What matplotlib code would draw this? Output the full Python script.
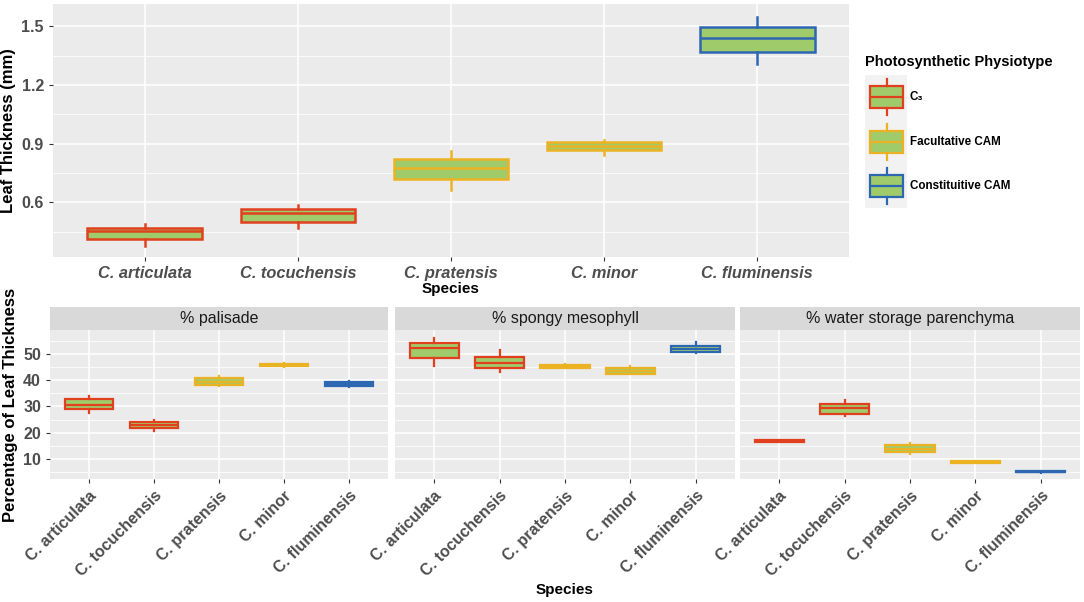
import matplotlib
matplotlib.use("Agg")
import matplotlib.pyplot as plt
from matplotlib.ticker import MultipleLocator

plt.rcParams['font.family'] = ['Liberation Sans', 'DejaVu Sans']

species = ['C. articulata', 'C. tocuchensis', 'C. pratensis', 'C. minor', 'C. fluminensis']
physio = ['C3', 'C3', 'Fac', 'Fac', 'Con']

# top panel: leaf thickness (mm)
lt_lo  = [0.376, 0.468, 0.661, 0.844, 1.307]
lt_q1  = [0.412, 0.498, 0.717, 0.870, 1.368]
lt_med = [0.453, 0.544, 0.778, 0.890, 1.439]
lt_q3  = [0.468, 0.564, 0.824, 0.910, 1.495]
lt_hi  = [0.488, 0.585, 0.864, 0.920, 1.546]

# bottom panels: percentage of leaf thickness
pal_lo  = [27.6, 20.7, 37.9, 45.0, 37.5]
pal_q1  = [28.9, 21.7, 38.2, 45.3, 37.7]
pal_med = [30.6, 22.8, 39.4, 45.7, 38.6]
pal_q3  = [32.7, 24.2, 40.7, 46.2, 39.5]
pal_hi  = [34.0, 24.9, 41.7, 46.4, 39.8]

spo_lo  = [45.5, 43.3, 44.6, 42.3, 50.4]
spo_q1  = [48.4, 44.6, 44.7, 42.5, 50.6]
spo_med = [52.2, 46.5, 45.3, 43.5, 51.9]
spo_q3  = [54.1, 48.9, 45.9, 44.6, 53.2]
spo_hi  = [56.2, 51.3, 46.0, 45.3, 54.7]

wat_lo  = [16.5, 26.5, 12.0, 8.3, 4.8]
wat_q1  = [16.6, 27.1, 12.8, 8.4, 4.9]
wat_med = [16.9, 29.3, 14.0, 8.75, 5.2]
wat_q3  = [17.2, 30.8, 15.3, 9.1, 5.5]
wat_hi  = [17.3, 32.5, 16.2, 9.2, 5.6]

facets = ['% palisade', '% spongy mesophyll', '% water storage parenchyma']

edge_col = {'C3': '#E0401E', 'Fac': '#EBB224', 'Con': '#2E67B1'}
fill_col = '#9FCB6B'
legend_labels = ['C\u2083', 'Facultative CAM', 'Constituitive CAM']

W, H = 1084, 602
fig = plt.figure(figsize=(W / 100, H / 100), dpi=100)


def ax_px(x0, y0, x1, y1):
    return fig.add_axes([x0 / W, 1 - y1 / H, (x1 - x0) / W, (y1 - y0) / H])


def style_panel(ax):
    ax.set_facecolor('#EBEBEB')
    for s in ax.spines.values():
        s.set_visible(False)
    ax.grid(which='major', color='white', lw=1.1)
    ax.grid(which='minor', axis='y', color='white', lw=0.55)
    ax.set_axisbelow(True)
    ax.tick_params(which='major', length=3, width=0.8, color='#333333',
                   labelcolor='#4D4D4D', labelsize=11.5)
    ax.tick_params(which='minor', length=0)
    for lab in ax.get_yticklabels():
        lab.set_fontweight('bold')


def draw_boxes(ax, lo, q1, med, q3, hi, lw):
    for i in range(len(species)):
        st = [dict(whislo=lo[i], q1=q1[i], med=med[i], q3=q3[i], whishi=hi[i], fliers=[])]
        c = edge_col[physio[i]]
        ax.bxp(st, positions=[i + 1], widths=0.75, showcaps=False, showfliers=False,
               patch_artist=True,
               boxprops=dict(facecolor=fill_col, edgecolor=c, lw=lw),
               medianprops=dict(color=c, lw=lw),
               whiskerprops=dict(color=c, lw=lw))


# ---- top panel
ax = ax_px(53, 4, 849, 257)
draw_boxes(ax, lt_lo, lt_q1, lt_med, lt_q3, lt_hi, 1.8)
ax.set_xlim(0.4, 5.6)
ax.set_ylim(0.32, 1.615)
ax.set_yticks([0.6, 0.9, 1.2, 1.5])
ax.yaxis.set_minor_locator(MultipleLocator(0.15))
ax.set_xticks(range(1, 6))
ax.set_xticklabels(species, fontstyle='italic', fontweight='bold')
style_panel(ax)
ax.tick_params(axis='x', labelsize=11.8)
ax.set_ylabel('Leaf Thickness (mm)', fontsize=12, fontweight='bold', labelpad=4)
ax.set_xlabel('Species', fontsize=11, fontweight='bold', labelpad=1)

# ---- bottom facets
bottom_data = [
    (pal_lo, pal_q1, pal_med, pal_q3, pal_hi),
    (spo_lo, spo_q1, spo_med, spo_q3, spo_hi),
    (wat_lo, wat_q1, wat_med, wat_q3, wat_hi),
]
xs = [(50, 388), (395, 735), (740, 1080)]
for k, (x0, x1) in enumerate(xs):
    a = ax_px(x0, 330, x1, 479)
    draw_boxes(a, *bottom_data[k], lw=1.6)
    a.set_xlim(0.4, 5.6)
    a.set_ylim(2.4, 59.1)
    a.set_yticks([10, 20, 30, 40, 50])
    a.yaxis.set_minor_locator(MultipleLocator(5))
    a.set_xticks(range(1, 6))
    a.set_xticklabels(species, rotation=45, ha='right', rotation_mode='anchor',
                      fontweight='bold')
    style_panel(a)
    if k > 0:
        a.set_yticklabels([])
        a.tick_params(axis='y', length=0)
    else:
        a.set_ylabel('Percentage of Leaf Thickness', fontsize=12, fontweight='bold',
                     labelpad=4)
    sa = ax_px(x0, 307, x1, 330)
    sa.set_facecolor('#D9D9D9')
    sa.set_xticks([])
    sa.set_yticks([])
    for s in sa.spines.values():
        s.set_visible(False)
    sa.text(0.5, 0.5, facets[k], ha='center', va='center', fontsize=11.5,
            color='#1A1A1A', transform=sa.transAxes)

fig.text(565 / W, 1 - 590 / H, 'Species', ha='center', va='center', fontsize=11,
         fontweight='bold')

# ---- legend
fig.text(865 / W, 1 - 62 / H, 'Photosynthetic Physiotype', ha='left', va='center',
         fontsize=10.5, fontweight='bold')
la = ax_px(865, 75, 907, 208)
la.set_facecolor('#F2F2F2')
la.axis('off')
la.add_patch(plt.Rectangle((865, 75), 42, 133, facecolor='#F2F2F2', edgecolor='none'))
key_y = [97, 142, 186]
for j, g in enumerate(['C3', 'Fac', 'Con']):
    y = key_y[j]
    st = [dict(whislo=y + 18, q1=y + 11, med=y, q3=y - 11, whishi=y - 18, fliers=[])]
    la.bxp(st, positions=[886.5], widths=33, showcaps=False, showfliers=False,
           patch_artist=True,
           boxprops=dict(facecolor=fill_col, edgecolor=edge_col[g], lw=1.6),
           medianprops=dict(color=edge_col[g], lw=1.6),
           whiskerprops=dict(color=edge_col[g], lw=1.6))
    fig.text(910 / W, 1 - y / H, legend_labels[j], ha='left', va='center',
             fontsize=8.4, fontweight='bold')
la.set_xlim(865, 907)
la.set_ylim(208, 75)

fig.savefig('out.png', dpi=100)
